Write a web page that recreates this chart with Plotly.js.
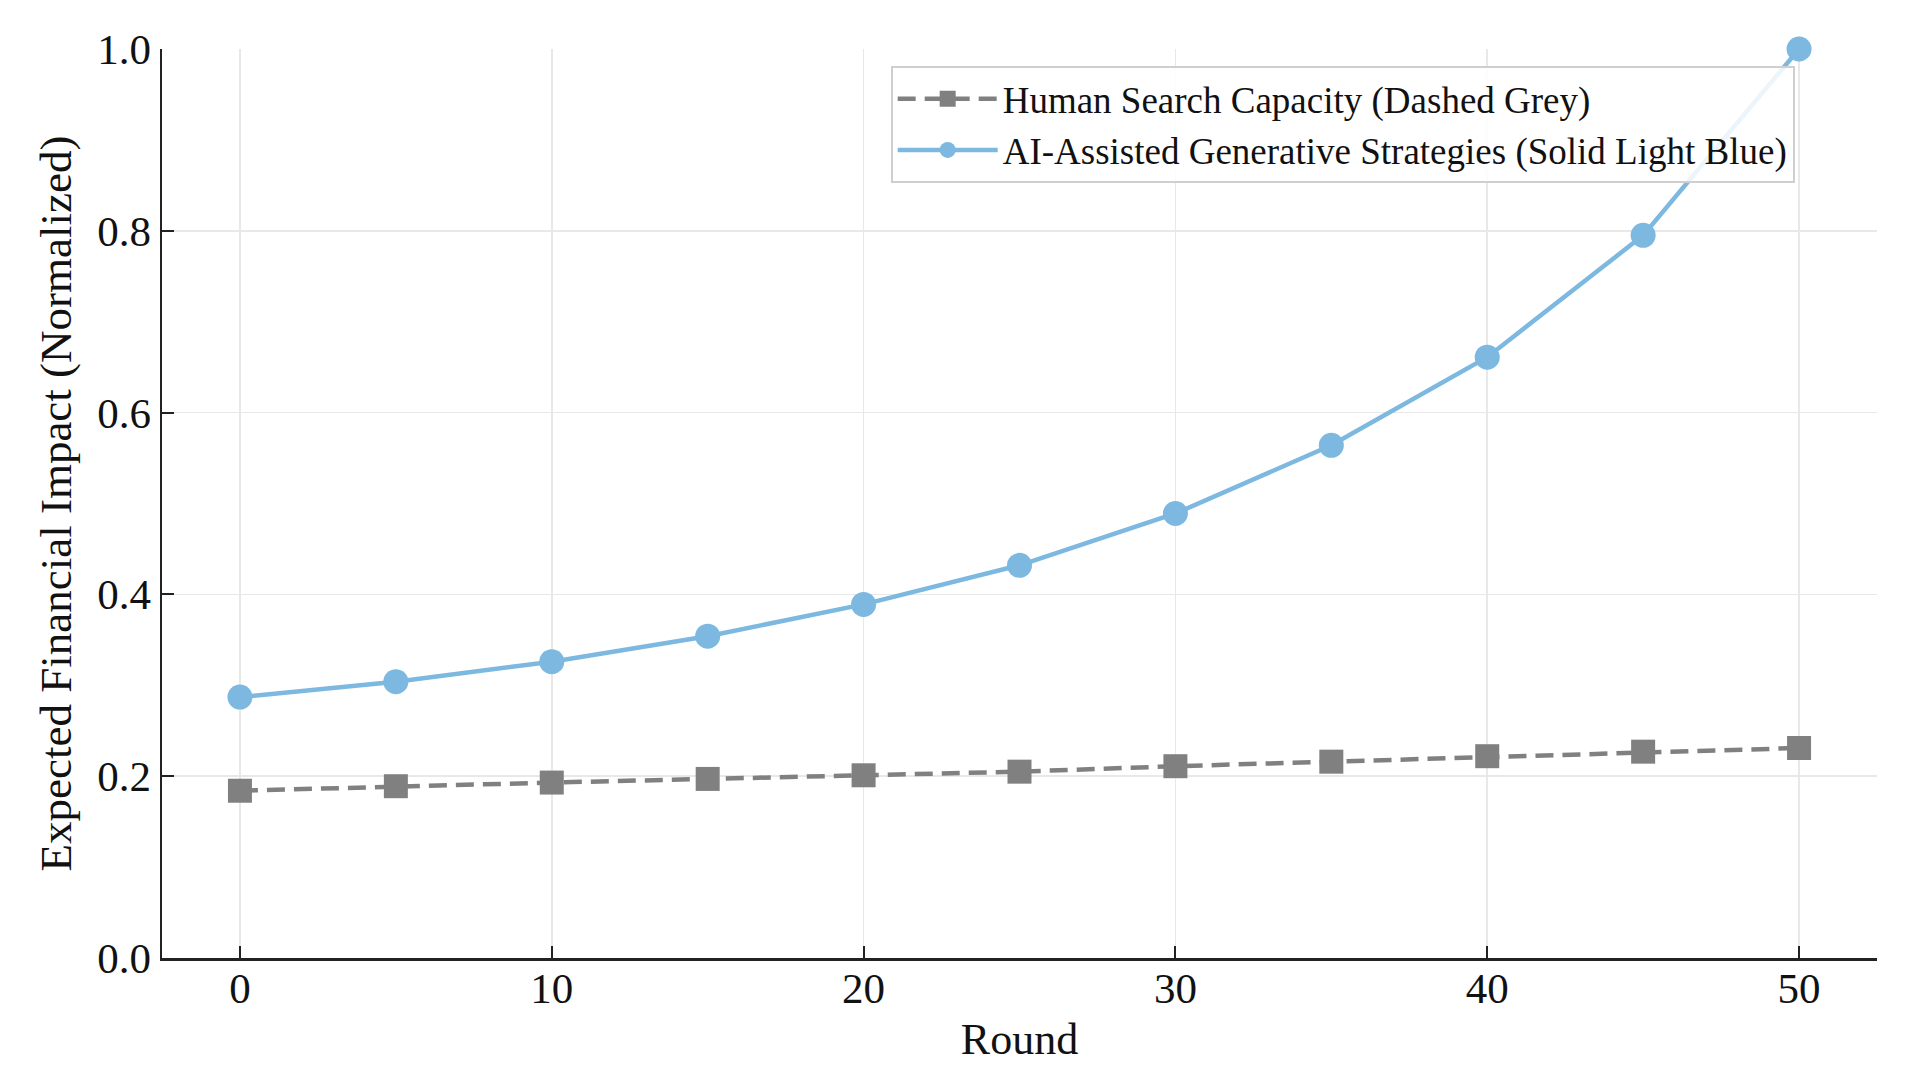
<!DOCTYPE html>
<html>
<head>
<meta charset="utf-8">
<script src="https://cdn.plot.ly/plotly-3.0.1.min.js"></script>
<style>html,body{margin:0;padding:0;background:#fff;}#chart{width:1929px;height:1082px;}</style>
</head>
<body>
<div id="chart"></div>
<script>
const rounds = [0, 5, 10, 15, 20, 25, 30, 35, 40, 45, 50];
const humanValues = [0.184, 0.189, 0.193, 0.197, 0.201, 0.205, 0.211, 0.216, 0.222, 0.227, 0.231];
const aiValues = [0.287, 0.304, 0.326, 0.354, 0.389, 0.432, 0.489, 0.564, 0.661, 0.795, 1.0];
const humanName = "Human Search Capacity (Dashed Grey)";
const aiName = "AI-Assisted Generative Strategies (Solid Light Blue)";
const xTicks = [0, 10, 20, 30, 40, 50];
const yTicks = [0.0, 0.2, 0.4, 0.6, 0.8, 1.0];
const yTickLabels = ["0.0", "0.2", "0.4", "0.6", "0.8", "1.0"];

const font = "Liberation Serif, Times New Roman, serif";

const traces = [
  {
    x: rounds, y: humanValues, name: humanName, type: "scatter", mode: "lines+markers",
    line: {color: "#808080", width: 4.5, dash: "18px,9px"},
    marker: {symbol: "square", size: 24, color: "#808080"},
    cliponaxis: false
  },
  {
    x: rounds, y: aiValues, name: aiName, type: "scatter", mode: "lines+markers",
    line: {color: "#7cb8e0", width: 4.5},
    marker: {symbol: "circle", size: 25, color: "#7cb8e0"},
    cliponaxis: false
  }
];

const layout = {
  width: 1929, height: 1082,
  margin: {l: 162, r: 52, t: 49, b: 124},
  paper_bgcolor: "#fff", plot_bgcolor: "#fff",
  font: {family: font, color: "#111", size: 40},
  showlegend: true,
  legend: {
    x: 0.952, y: 0.981, xanchor: "right", yanchor: "top",
    bgcolor: "rgba(255,255,255,0.85)", bordercolor: "#cfcfcf", borderwidth: 2,
    font: {family: font, size: 37, color: "#111"},
    itemwidth: 100, tracegroupgap: 0
  },
  xaxis: {
    range: [-2.5, 52.5], tickvals: xTicks, ticktext: xTicks.map(String),
    showgrid: true, gridcolor: "#e8e8e8", gridwidth: 1.5,
    zeroline: false, showline: true, linecolor: "#222", linewidth: 2.5,
    ticks: "inside", ticklen: 12, tickwidth: 2, tickcolor: "#222",
    ticklabelstandoff: -9,
    tickfont: {family: font, size: 43, color: "#111"},
    title: {text: "Round", font: {family: font, size: 44, color: "#111"}, standoff: 12},
    mirror: false
  },
  yaxis: {
    range: [0, 1.0], tickvals: yTicks, ticktext: yTickLabels,
    showgrid: true, gridcolor: "#e8e8e8", gridwidth: 1.5,
    zeroline: false, showline: true, linecolor: "#222", linewidth: 2.5,
    ticks: "inside", ticklen: 12, tickwidth: 2, tickcolor: "#222",
    tickfont: {family: font, size: 43, color: "#111"},
    title: {text: "Expected Financial Impact (Normalized)", font: {family: font, size: 45, color: "#111"}, standoff: 12},
    mirror: false
  }
};

Plotly.newPlot("chart", traces, layout, {displayModeBar: false, staticPlot: true});
</script>
</body>
</html>
